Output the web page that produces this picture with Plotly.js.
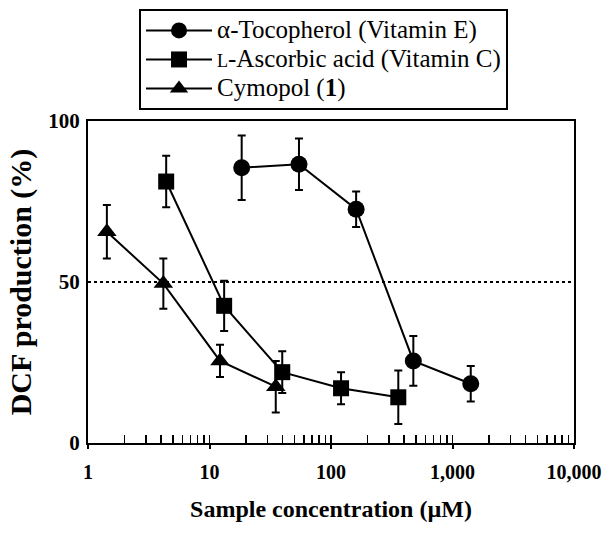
<!DOCTYPE html>
<html>
<head>
<meta charset="utf-8">
<script src="https://cdn.plot.ly/plotly-3.0.1.min.js"></script>
<style>html,body{margin:0;padding:0;background:#fff;}#chart{width:602px;height:544px;}</style>
</head>
<body>
<div id="chart"></div>
<script>
// Data
var tocoConc = [18.4, 54.5, 161, 476, 1413];
var tocoDCF  = [85.5, 86.6, 72.6, 25.5, 18.4];
var tocoErr  = [10, 8, 5.5, 7.7, 5.5];

var ascConc = [4.4, 13.2, 39.7, 121, 358];
var ascDCF  = [81.2, 42.6, 22.0, 17.0, 14.2];
var ascErr  = [8, 7.8, 6.5, 5, 8.3];

var cymConc = [1.43, 4.17, 12.2, 35.1];
var cymDCF  = [65.6, 49.5, 25.5, 17.5];
var cymErr  = [8.3, 7.8, 5, 8];

var xTickVals = [1, 10, 100, 1000, 10000];
var xTickText = ['1', '10', '100', '1,000', '10,000'];
var yTickVals = [0, 50, 100];
var refLevel = 50;

var serif = 'Liberation Serif, Times New Roman, serif';
var big = function (s) { return '<span style="font-size:25px">' + s + '</span>'; };

function series(name, x, y, err, symbol, size) {
  return {
    type: 'scatter', mode: 'lines+markers', name: name,
    x: x, y: y,
    line: {color: '#000', width: 2},
    marker: {symbol: symbol, size: size, color: '#000'},
    error_y: {type: 'data', array: err, visible: true, color: '#000', thickness: 2, width: 4}
  };
}

var data = [
  series(big('\u03b1-Tocopherol (Vitamin E)'), tocoConc, tocoDCF, tocoErr, 'circle', 17),
  series(big('<span style="font-size:18px">L</span>-Ascorbic acid (Vitamin C)'), ascConc, ascDCF, ascErr, 'square', 16),
  series(big('Cymopol (<b>1</b>)'), cymConc, cymDCF, cymErr, 'triangle-up', 17),
  {
    // dotted 50 % reference line, drawn on the overlay axis (which also carries the minor ticks)
    type: 'scatter', mode: 'lines', xaxis: 'x2', yaxis: 'y',
    x: [xTickVals[0], xTickVals[xTickVals.length - 1]], y: [refLevel, refLevel],
    line: {color: '#000', width: 2, dash: 'dot'},
    showlegend: false, hoverinfo: 'skip'
  }
];

var layout = {
  width: 602, height: 544,
  margin: {l: 88, r: 28, t: 121, b: 101, autoexpand: false},
  paper_bgcolor: '#fff', plot_bgcolor: '#fff',
  font: {family: serif, color: '#000'},
  showlegend: true,
  legend: {
    x: 0.105, y: 1.348, xanchor: 'left', yanchor: 'top',
    bordercolor: '#000', borderwidth: 2, bgcolor: '#fff',
    font: {family: serif, size: 20, color: '#000'},
    tracegroupgap: 0, itemwidth: 66
  },
  xaxis: {
    type: 'log', range: [0, 4],
    showline: true, linecolor: '#000', linewidth: 2, mirror: true,
    showgrid: false, zeroline: false,
    tickmode: 'array', tickvals: xTickVals, ticktext: xTickText,
    ticks: 'outside', ticklen: 4, tickwidth: 2, tickcolor: '#000',
    ticklabelstandoff: 6,
    tickfont: {family: serif, size: 20, color: '#000', weight: 'bold'},
    title: {text: '<b>Sample concentration (\u00b5M)</b>', font: {family: serif, size: 24, color: '#000'}, standoff: 18}
  },
  xaxis2: {
    type: 'log', range: [0, 4], overlaying: 'x', anchor: 'y', side: 'bottom',
    showline: false, showgrid: false, zeroline: false,
    dtick: 'D1', ticks: 'inside', ticklen: 8, tickwidth: 1.5, tickcolor: '#000',
    showticklabels: false
  },
  yaxis: {
    range: [0, 100],
    showline: true, linecolor: '#000', linewidth: 2, mirror: true,
    showgrid: false, zeroline: false,
    tickmode: 'array', tickvals: yTickVals,
    ticks: '', ticklabelstandoff: 2,
    tickfont: {family: serif, size: 21, color: '#000', weight: 'bold'},
    title: {text: '<b>DCF production (%)</b>', font: {family: serif, size: 30, color: '#000'}, standoff: 8}
  }
};

Plotly.newPlot('chart', data, layout, {displayModeBar: false, staticPlot: true});
</script>
</body>
</html>
